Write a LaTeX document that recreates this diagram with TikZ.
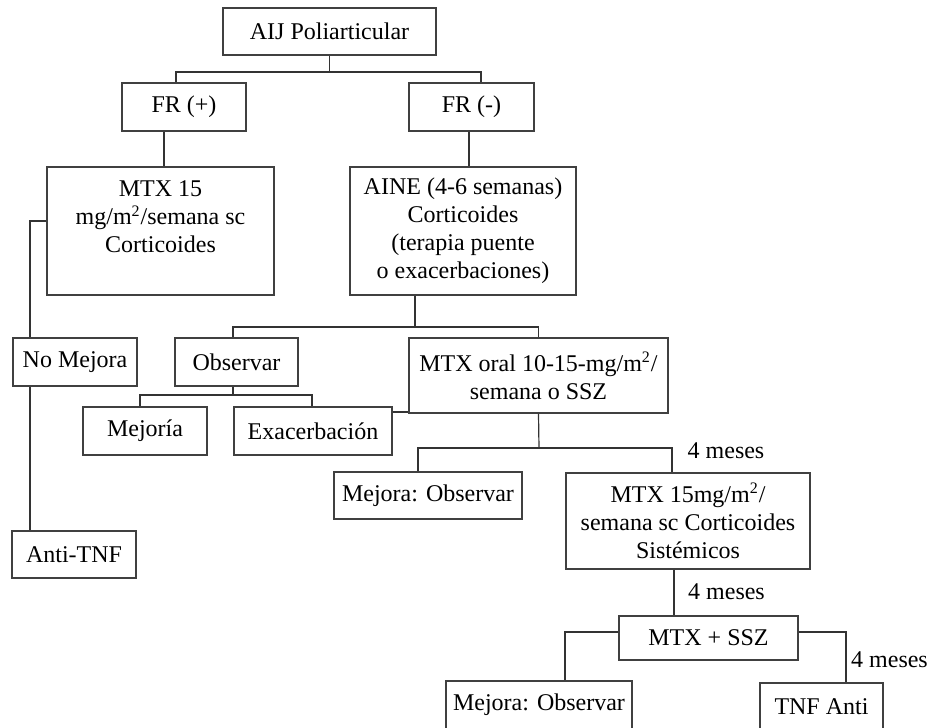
\documentclass[tikz,border=0pt]{standalone}
\usepackage{fontspec}
\setmainfont{Liberation Serif}
\usepackage{tikz}

\begin{document}
\begin{tikzpicture}[x=0.5pt,y=-0.5pt,
		caja/.style={draw=black!75, line width=0.6pt, align=center, inner sep=2pt, font=\fontsize{12}{14}\selectfont},
		rotulo/.style={inner sep=0pt, font=\fontsize{12}{14}\selectfont},
		linea/.style={draw=black!80, line width=0.6pt}]
		\useasboundingbox (0,0) rectangle (938,728);
		\node[caja, minimum width=106.5pt, minimum height=23.5pt] (aij) at (329.5,31.5) {AIJ Poliarticular};
		\node[caja, minimum width=62pt, minimum height=24pt] (frpos) at (184,107) {FR (+)};
		\node[caja, minimum width=62.5pt, minimum height=24pt] (frneg) at (471.5,107) {FR (-)};
		\node[caja, minimum width=113.5pt, minimum height=64pt] (mtxsc) at (160.5,231) {MTX 15\\mg/m\textsuperscript{2}/semana sc\\Corticoides\\\mbox{}};
		\node[caja, minimum width=113pt, minimum height=64pt] (aine) at (463,231) {AINE (4-6 semanas)\\Corticoides\\(terapia puente\\o exacerbaciones)};
		\node[caja, minimum width=62pt, minimum height=24pt] (nomejora) at (75,362) {No Mejora};
		\node[caja, minimum width=61.5pt, minimum height=24pt] (observar) at (236.5,362) {Observar};
		\node[caja, minimum width=129.5pt, minimum height=37.5pt] (mtxoral) at (538.5,375.5) {MTX oral 10-15-mg/m\textsuperscript{2}/\\semana o SSZ};
		\node[caja, minimum width=62pt, minimum height=24pt] (mejoria) at (145,431) {Mejoría};
		\node[caja, minimum width=79pt, minimum height=24pt] (exacerb) at (313,431) {Exacerbación};
		\node[caja, minimum width=62pt, minimum height=23.5pt] (antitnf) at (74,554.5) {Anti-TNF};
		\node[caja, minimum width=94pt, minimum height=23.5pt] (mejobsa) at (428,495.5) {Mejora: Observar};
		\node[caja, minimum width=122pt, minimum height=48pt] (mtxsis) at (688,521) {MTX 15mg/m\textsuperscript{2}/\\semana sc Corticoides\\Sistémicos};
		\node[caja, minimum width=89.5pt, minimum height=22pt] (mtxssz) at (708.5,638) {MTX + SSZ};
		\node[caja, minimum width=93pt, minimum height=24pt] (mejobsb) at (539,705) {Mejora: Observar};
		\node[caja, minimum width=61.5pt, minimum height=23.5pt] (tnfanti) at (821.5,706.5) {TNF Anti};
		\node[rotulo] (mesa) at (726,451) {4 meses};
		\node[rotulo] (mesb) at (726.5,592) {4 meses};
		\node[rotulo] (mesc) at (889.5,660) {4 meses};
		\coordinate (j1) at (329.5,72);
		\coordinate (j3) at (415,327);
		\coordinate (j4) at (233,395);
		\coordinate (j5) at (539,448);
		\draw[linea] (aij.south) -- (j1);
		\draw[linea] (j1) -| ([xshift=-4pt]frpos.north);
		\draw[linea] (j1) -| ([xshift=4.75pt]frneg.north);
		\draw[linea] ([xshift=-10pt]frpos.south) -- ([xshift=1.75pt]mtxsc.north);
		\draw[linea] ([xshift=-1.25pt]frneg.south) -- ([xshift=3pt]aine.north);
		\draw[linea] ([yshift=5pt]mtxsc.west) -| ([xshift=-22.5pt]nomejora.north);
		\draw[linea] ([xshift=-22.5pt]nomejora.south) -- ([xshift=-22pt]antitnf.north);
		\draw[linea] ([xshift=-24pt]aine.south) -- (j3);
		\draw[linea] (j3) -| ([xshift=-1.75pt]observar.north);
		\draw[linea] (j3) -| (mtxoral.north);
		\draw[linea] ([xshift=-1.75pt]observar.south) -- (j4);
		\draw[linea] (j4) -| ([xshift=-2.5pt]mejoria.north);
		\draw[linea] (j4) -| ([xshift=-0.5pt]exacerb.north);
		\draw[linea] ([yshift=9.5pt]exacerb.east) -- ([yshift=-18.25pt]mtxoral.west);
		\draw[linea] (mtxoral.south) -- (j5);
		\draw[linea] (j5) -| ([xshift=-5pt]mejobsa.north);
		\draw[linea] (j5) -| ([xshift=-8pt]mtxsis.north);
		\draw[linea] ([xshift=-7pt]mtxsis.south) -- ([xshift=-17.25pt]mtxssz.north);
		\draw[linea] ([yshift=3pt]mtxssz.west) -| ([xshift=13pt]mejobsb.north);
		\draw[linea] ([yshift=3pt]mtxssz.east) -| ([xshift=12.25pt]tnfanti.north);
\end{tikzpicture}
\end{document}
